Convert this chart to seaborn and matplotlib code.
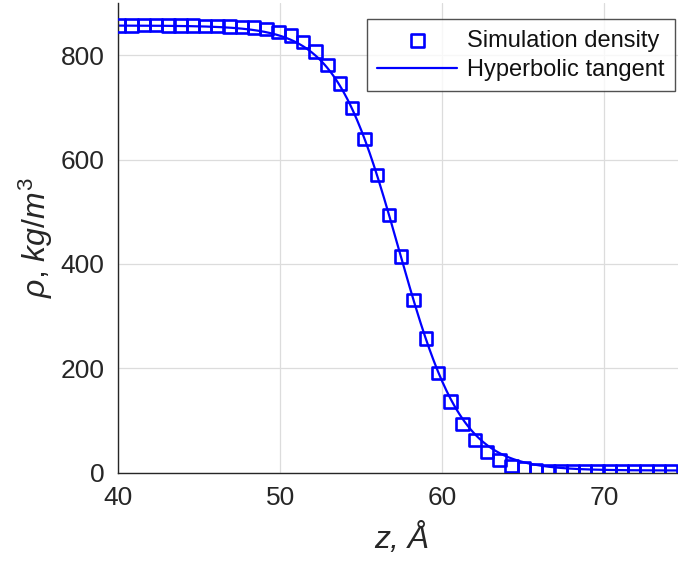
import numpy as np
import pandas as pd
import matplotlib
matplotlib.use("Agg")
import matplotlib.pyplot as plt
import seaborn as sns

# Binned density profile across the liquid/vapour interface
z_bins = [40.06, 40.82, 41.57, 42.33, 43.09, 43.85, 44.60, 45.36, 46.12, 46.87,
          47.63, 48.39, 49.14, 49.90, 50.66, 51.42, 52.17, 52.93, 53.69, 54.44,
          55.20, 55.96, 56.71, 57.47, 58.23, 58.99, 59.74, 60.50, 61.26, 62.01,
          62.77, 63.53, 64.28, 65.04, 65.80, 66.56, 67.31, 68.07, 68.83, 69.58,
          70.34, 71.10, 71.85, 72.61, 73.37, 74.13]
rho_sim = [857, 857, 858, 858, 857, 857, 857, 856, 856, 855,
           854, 853, 850, 845, 838, 825, 807, 781, 746, 699,
           640, 571, 494, 414, 331, 257, 191, 136, 93, 62,
           39, 24, 13, 9, 5, 3, 2, 2, 2, 2,
           2, 2, 2, 2, 2, 2]

# Fitted hyperbolic-tangent parameters
rho_liquid = 857.0
rho_vapour = 4.0
z_interface = 57.3
thickness = 3.9

x_ticks = [40, 50, 60, 70]
y_ticks = [0, 200, 400, 600, 800]

sns.set_style("white")
plt.rcParams["font.family"] = ["Liberation Sans", "DejaVu Sans"]
plt.rcParams["mathtext.fontset"] = "custom"
plt.rcParams["mathtext.it"] = "Liberation Sans:italic"
plt.rcParams["mathtext.rm"] = "Liberation Sans"

z_fit = np.linspace(40, 75, 400)
rho_fit = 0.5 * (rho_liquid + rho_vapour) - 0.5 * (rho_liquid - rho_vapour) * np.tanh((z_fit - z_interface) / thickness)

sim = pd.DataFrame({"z": z_bins, "rho": rho_sim})
fit = pd.DataFrame({"z": z_fit, "rho": rho_fit})

fig = plt.figure(figsize=(6.78, 5.66), dpi=100)
ax = fig.add_axes([0.1745, 0.165, 0.836, 0.8295])

blue = (0, 0, 1)
sns.scatterplot(data=sim, x="z", y="rho", ax=ax, marker="s", s=80,
                facecolors="none", edgecolor=blue, linewidth=1.9,
                label="Simulation density", zorder=3)
sns.lineplot(data=fit, x="z", y="rho", ax=ax, color=blue, linewidth=1.6,
             label="Hyperbolic tangent", zorder=2)

ax.set_xlim(40, 75)
ax.set_ylim(0, 900)
ax.set_xticks(x_ticks)
ax.set_yticks(y_ticks)
ax.grid(True, color="#dcdcdc", linewidth=0.9)
ax.set_axisbelow(True)

for side in ("top", "right"):
    ax.spines[side].set_visible(False)
for side in ("left", "bottom"):
    ax.spines[side].set_color("#262626")
    ax.spines[side].set_linewidth(1.0)

ax.tick_params(axis="both", direction="in", length=5, width=1.0,
               colors="#262626", labelsize=19)
ax.tick_params(axis="x", pad=10)
ax.tick_params(axis="y", pad=10)
ax.tick_params(axis="both", labelcolor="#262626")

ax.set_xlabel("z, Å", fontsize=23, style="italic", color="#262626", labelpad=9)
ax.set_ylabel(r"$\rho$, $kg/m^3$", fontsize=23, color="#262626", labelpad=4)

leg = ax.legend(loc="upper left", bbox_to_anchor=(0.438, 0.966), fontsize=17,
                frameon=True, fancybox=False, edgecolor="#262626",
                handlelength=3.4, handletextpad=0.4, borderpad=0.45,
                labelspacing=0.3, borderaxespad=0.0)
leg.get_frame().set_linewidth(1.0)
for t in leg.get_texts():
    t.set_color("#111111")

fig.savefig("out.png", dpi=100)
